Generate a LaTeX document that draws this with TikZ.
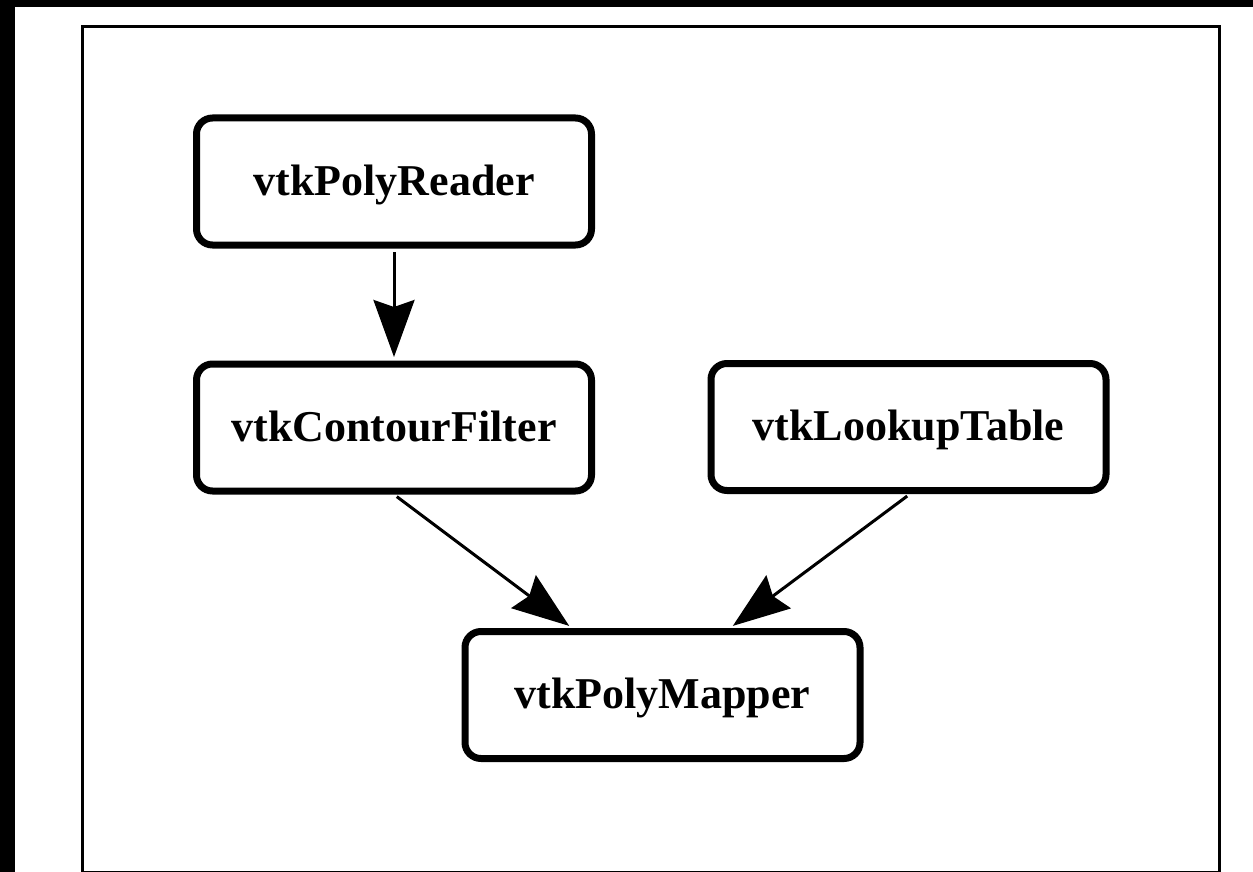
\documentclass[tikz,border=0pt]{standalone}
\usepackage{fontspec}
\setmainfont{Liberation Serif}
\usetikzlibrary{arrows.meta}
\tikzset{
  vtkbox/.style={draw=black, line width=7pt, rounded corners=16pt, minimum width=395pt, minimum height=127pt, inner sep=0pt, fill=white, text height=35pt, text depth=8pt, font=\fontsize{44}{50}\selectfont\bfseries},
  flow/.style={line width=3pt, -{Stealth[length=57pt, width=41pt, inset=7pt]}, shorten >=3.5pt, shorten <=3.5pt}
}
\begin{document}
\begin{tikzpicture}[x=1pt,y=-1pt]
\useasboundingbox (0,0) rectangle (1253,872);
\begin{scope}
\clip (0,0) rectangle (1253,872);
\fill[black] (0,0) rectangle (1253,872);
\fill[white] (15,7) rectangle (1253,872);
\draw[line width=3pt] (82.5,26.5) rectangle (1219.5,872.5);
\end{scope}
\node[vtkbox] (reader) at (394,181.5) {vtkPolyReader};
\node[vtkbox] (contour) at (394,427.5) {vtkContourFilter};
\node[vtkbox] (lookup) at (908.5,427) {vtkLookupTable};
\node[vtkbox] (mapper) at (662.5,695) {vtkPolyMapper};
\draw[flow] (reader.south) -- (contour.north);
\draw[flow] (contour.south) -- ([xshift=-90.5pt]mapper.north);
\draw[flow] ([xshift=1.5pt]lookup.south) -- ([xshift=67.5pt]mapper.north);
\end{tikzpicture}
\end{document}
